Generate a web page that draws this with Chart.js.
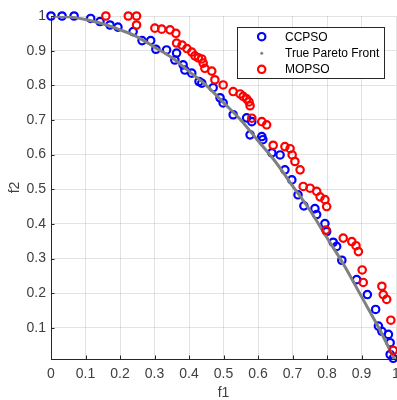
<!DOCTYPE html>
<html>
<head>
<meta charset="utf-8">
<title>CCPSO vs MOPSO</title>
<script src="https://cdn.jsdelivr.net/npm/chart.js@4/dist/chart.umd.min.js"></script>
<style>
  html, body { margin: 0; padding: 0; background: #fff; overflow: hidden; }
  canvas { display: block; }
</style>
</head>
<body>
<canvas id="chart" width="397" height="400"></canvas>
<script>
// ticks
const xTicks = [0, 0.1, 0.2, 0.3, 0.4, 0.5, 0.6, 0.7, 0.8, 0.9, 1];
const yTicks = [0.1, 0.2, 0.3, 0.4, 0.5, 0.6, 0.7, 0.8, 0.9, 1];

// CCPSO (blue)
const ccpsoF1 = [0.0, 0.032, 0.067, 0.115, 0.142, 0.171, 0.194, 0.238, 0.264, 0.289,
  0.304, 0.335, 0.364, 0.359, 0.383, 0.388, 0.408, 0.429, 0.437, 0.470,
  0.490, 0.499, 0.528, 0.567, 0.582, 0.577, 0.611, 0.614, 0.640, 0.664,
  0.678, 0.698, 0.716, 0.733, 0.765, 0.770, 0.794, 0.799, 0.818, 0.828,
  0.843, 0.886, 0.917, 0.941, 0.949, 0.959, 0.978, 0.983, 0.983, 0.992];
const ccpsoF2 = [1.0, 1.0, 1.0, 0.993, 0.984, 0.974, 0.968, 0.955, 0.929, 0.929,
  0.904, 0.902, 0.893, 0.873, 0.859, 0.844, 0.835, 0.811, 0.806, 0.793,
  0.764, 0.749, 0.715, 0.706, 0.695, 0.657, 0.652, 0.643, 0.605, 0.599,
  0.556, 0.527, 0.484, 0.452, 0.444, 0.427, 0.401, 0.378, 0.347, 0.335,
  0.295, 0.239, 0.196, 0.153, 0.105, 0.090, 0.081, 0.057, 0.023, 0.012];

// True Pareto Front (grey)
const trueF1 = [0, 0.05, 0.1, 0.15, 0.2, 0.25, 0.3, 0.35, 0.4, 0.45, 0.5,
  0.55, 0.6, 0.65, 0.7, 0.75, 0.8, 0.85, 0.9, 0.95, 1];
const trueF2 = [1, 0.9975, 0.99, 0.9775, 0.96, 0.94, 0.91, 0.88, 0.84, 0.80, 0.75,
  0.70, 0.64, 0.58, 0.51, 0.44, 0.36, 0.28, 0.19, 0.10, 0];

// MOPSO (red)
const mopsoF1 = [0.159, 0.224, 0.248, 0.248, 0.301, 0.321, 0.345, 0.362, 0.364, 0.380,
  0.394, 0.408, 0.417, 0.427, 0.437, 0.441, 0.446, 0.466, 0.475, 0.499,
  0.528, 0.548, 0.557, 0.567, 0.574, 0.577, 0.582, 0.611, 0.625, 0.644,
  0.678, 0.693, 0.699, 0.707, 0.722, 0.731, 0.751, 0.770, 0.780, 0.794,
  0.799, 0.797, 0.847, 0.872, 0.884, 0.891, 0.902, 0.905, 0.959, 0.963,
  0.973, 0.985, 0.992];
const mopsoF2 = [1.0, 1.0, 1.0, 0.974, 0.965, 0.962, 0.960, 0.950, 0.922, 0.916,
  0.906, 0.896, 0.885, 0.879, 0.876, 0.864, 0.849, 0.841, 0.816, 0.801,
  0.782, 0.775, 0.768, 0.761, 0.752, 0.741, 0.705, 0.695, 0.686, 0.627,
  0.623, 0.617, 0.599, 0.580, 0.556, 0.508, 0.503, 0.494, 0.478, 0.470,
  0.450, 0.382, 0.359, 0.349, 0.337, 0.320, 0.267, 0.231, 0.220, 0.196,
  0.182, 0.122, 0.035];

const seriesNames = ['CCPSO', 'True Pareto Front', 'MOPSO'];
const seriesColors = ['#0000ff', '#808080', '#ff0000'];

const FONT = "'Liberation Sans', Arial, Helvetica, sans-serif";
const AXIS_COLOR = '#262626';
const TEXT_COLOR = '#404040';

function toPoints(xs, ys) {
  return xs.map((x, i) => ({ x: x, y: ys[i] }));
}

// legend box inside the axes, MATLAB style
const matlabLegend = {
  id: 'matlabLegend',
  afterDatasetsDraw(chart) {
    const ctx = chart.ctx;
    const box = { x: 237.5, y: 27.5, w: 147, h: 51 };
    ctx.save();
    ctx.fillStyle = '#ffffff';
    ctx.strokeStyle = '#262626';
    ctx.lineWidth = 1;
    ctx.fillRect(box.x, box.y, box.w, box.h);
    ctx.strokeRect(box.x, box.y, box.w, box.h);

    const rows = [36.7, 53.3, 69.3];
    ctx.font = '12px ' + FONT;
    ctx.textBaseline = 'middle';
    ctx.textAlign = 'left';
    rows.forEach((ry, i) => {
      if (i === 1) {
        ctx.fillStyle = seriesColors[i];
        ctx.beginPath();
        ctx.arc(261.7, ry, 1.5, 0, Math.PI * 2);
        ctx.fill();
      } else {
        ctx.strokeStyle = seriesColors[i];
        ctx.lineWidth = 2.2;
        ctx.beginPath();
        ctx.arc(261.7, ry, 3.7, 0, Math.PI * 2);
        ctx.stroke();
      }
      ctx.fillStyle = '#000000';
      ctx.fillText(seriesNames[i], 285, ry + 0.5);
    });
    ctx.restore();
  }
};

// small tick marks pointing into the axes
const innerTicks = {
  id: 'innerTicks',
  afterDraw(chart) {
    const ctx = chart.ctx;
    const xs = chart.scales.x;
    const ys = chart.scales.y;
    const area = chart.chartArea;
    ctx.save();
    ctx.strokeStyle = AXIS_COLOR;
    ctx.lineWidth = 1;
    ctx.beginPath();
    xTicks.forEach(v => {
      const px = Math.round(xs.getPixelForValue(v)) + 0.5;
      ctx.moveTo(px, area.bottom);
      ctx.lineTo(px, area.bottom - 3.5);
    });
    yTicks.forEach(v => {
      const py = Math.round(ys.getPixelForValue(v)) + 0.5;
      ctx.moveTo(area.left, py);
      ctx.lineTo(area.left + 3.5, py);
    });
    ctx.stroke();
    ctx.restore();
  }
};

const ctx = document.getElementById('chart').getContext('2d');
const chart = new Chart(ctx, {
  type: 'scatter',
  data: {
    datasets: [
      {
        label: seriesNames[0],
        data: toPoints(ccpsoF1, ccpsoF2),
        borderColor: seriesColors[0],
        backgroundColor: 'rgba(0,0,0,0)',
        pointRadius: 3.7,
        pointBorderWidth: 2.2,
        pointHoverRadius: 3.7,
        clip: false,
        order: 3
      },
      {
        label: seriesNames[1],
        data: toPoints(trueF1, trueF2),
        showLine: true,
        borderColor: seriesColors[1],
        borderWidth: 3,
        pointRadius: 0,
        cubicInterpolationMode: 'monotone',
        clip: 0,
        order: 2
      },
      {
        label: seriesNames[2],
        data: toPoints(mopsoF1, mopsoF2),
        borderColor: seriesColors[2],
        backgroundColor: 'rgba(0,0,0,0)',
        pointRadius: 3.7,
        pointBorderWidth: 2.2,
        pointHoverRadius: 3.7,
        clip: false,
        order: 1
      }
    ]
  },
  options: {
    responsive: false,
    animation: false,
    devicePixelRatio: 1,
    layout: { autoPadding: false, padding: { top: 16, right: 1, left: 0, bottom: 0 } },
    plugins: {
      legend: { display: false },
      tooltip: { enabled: false }
    },
    scales: {
      x: {
        type: 'linear',
        min: 0,
        max: 1,
        afterBuildTicks: scale => { scale.ticks = xTicks.map(v => ({ value: v })); },
        afterFit: scale => {
          scale.height = 41;
          scale.paddingLeft = 0;
          scale.paddingRight = 0;
        },
        ticks: {
          color: TEXT_COLOR,
          font: { family: FONT, size: 14 },
          padding: 7,
          maxRotation: 0,
          autoSkip: false,
          callback: v => String(Math.round(v * 10) / 10)
        },
        grid: { color: 'rgba(38,38,38,0.13)', drawTicks: false },
        border: { color: AXIS_COLOR, width: 1 },
        title: {
          display: true,
          text: 'f1',
          color: TEXT_COLOR,
          font: { family: FONT, size: 14, lineHeight: 1 },
          padding: { top: 0, bottom: 0 }
        }
      },
      y: {
        type: 'linear',
        min: 0.01,
        max: 1,
        afterBuildTicks: scale => { scale.ticks = yTicks.map(v => ({ value: v })); },
        afterFit: scale => {
          scale.width = 51;
          scale.paddingTop = 0;
          scale.paddingBottom = 0;
        },
        ticks: {
          color: TEXT_COLOR,
          font: { family: FONT, size: 14 },
          padding: 5,
          autoSkip: false,
          callback: v => String(Math.round(v * 10) / 10)
        },
        grid: { color: 'rgba(38,38,38,0.13)', drawTicks: false },
        border: { color: AXIS_COLOR, width: 1 },
        title: {
          display: true,
          text: 'f2',
          color: TEXT_COLOR,
          font: { family: FONT, size: 14, lineHeight: 1 },
          padding: { top: 8, bottom: 0 }
        }
      }
    }
  },
  plugins: [matlabLegend, innerTicks]
});
</script>
</body>
</html>
